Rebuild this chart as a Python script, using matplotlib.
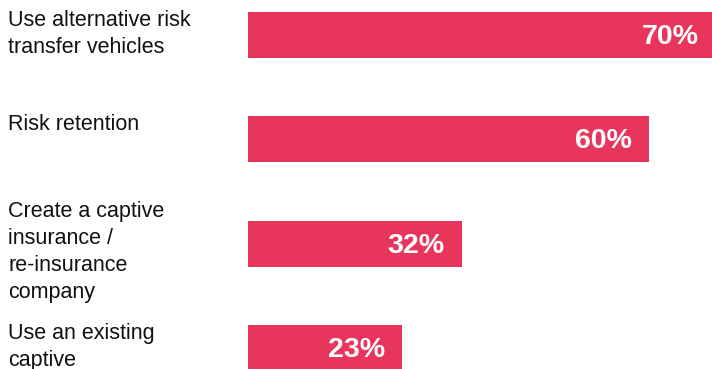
import matplotlib
matplotlib.use('Agg')
import matplotlib.pyplot as plt
import matplotlib.transforms as mtransforms

# dati del grafico
categories = [
    "Use alternative risk\ntransfer vehicles",
    "Risk retention",
    "Create a captive\ninsurance /\nre-insurance\ncompany",
    "Use an existing\ncaptive",
]
values = [70, 60, 32, 23]
value_labels = ["70%", "60%", "32%", "23%"]

BAR_COLOR = "#E8355C"

plt.rcParams['font.family'] = ['Liberation Sans', 'DejaVu Sans']

fig = plt.figure(figsize=(7.12, 3.69), dpi=100)
ax = fig.add_axes([248 / 712, 0, 464 / 712, 1])

positions = list(range(len(categories)))
bar_h = 0.44
ax.barh(positions, values, height=bar_h, color=BAR_COLOR)

ax.set_xlim(0, 69.45)
ax.set_ylim(3.202, -0.336)
ax.axis('off')

# etichette delle categorie a sinistra (allineate in alto con la barra)
trans = mtransforms.blended_transform_factory(fig.transFigure, ax.transData)
for pos, label in zip(positions, categories):
    top = pos - bar_h / 2 - 0.02
    if label.count("\n") > 2:
        top -= 0.17  # etichetta lunga: sale sopra la barra
    ax.text(8 / 712, top, label, transform=trans, ha='left', va='top',
            fontsize=15.5, color='#111111', linespacing=1.38)

# valori dentro le barre
for pos, val, txt in zip(positions, values, value_labels):
    ax.annotate(txt, xy=(val, pos), xytext=(-17, -2), textcoords='offset pixels',
                ha='right', va='center', fontsize=20.5, fontweight='bold', color='white',
                annotation_clip=False)

fig.savefig('out.png', dpi=100)
